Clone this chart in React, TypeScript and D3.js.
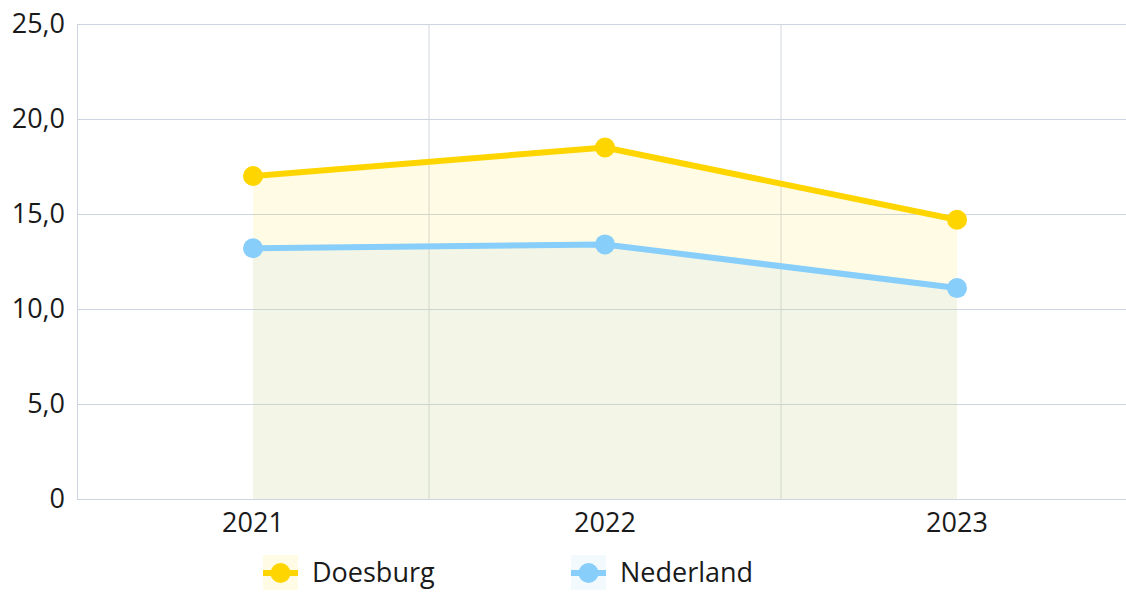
import React from "react";
import * as d3 from "d3";

const years = ["2021", "2022", "2023"];
const doesburg = [17.0, 18.5, 14.7];
const nederland = [13.2, 13.4, 11.1];
const yTicks = [0, 5, 10, 15, 20, 25];
const seriesNames = ["Doesburg", "Nederland"];

const W = 1126;
const H = 592;
const FONT = "'Open Sans', 'Noto Sans', sans-serif";

export default function App() {
  const x = d3.scaleBand<string>().domain(years).range([77, 1133]).padding(0);
  const y = d3.scaleLinear().domain([0, 25]).range([499, 24]);
  const cx = (d: string) => (x(d) as number) + x.bandwidth() / 2;

  const series = [
    { name: seriesNames[0], values: doesburg, stroke: "#FFD500", fill: "rgba(255,215,0,0.1)" },
    { name: seriesNames[1], values: nederland, stroke: "#87CEFA", fill: "rgba(135,206,250,0.1)" },
  ];

  const line = d3
    .line<number>()
    .x((_, i) => cx(years[i]))
    .y((d) => y(d));
  const area = d3
    .area<number>()
    .x((_, i) => cx(years[i]))
    .y0(y(0))
    .y1((d) => y(d));

  const fmt = (d: number) => (d === 0 ? "0" : d.toFixed(1).replace(".", ","));

  const legendX = [263, 571];

  return (
    <svg
      width={W}
      height={H}
      style={{ position: "absolute", left: 0, top: 0, fontFamily: FONT }}
    >
      <rect x={0} y={0} width={W} height={H} fill="#fff" />
      {/* vertical grid */}
      {years.slice(1).map((yr) => (
        <line key={yr} x1={x(yr)} x2={x(yr)} y1={24} y2={499} stroke="#D3D8DE" strokeWidth={1} />
      ))}
      {/* horizontal grid */}
      {yTicks.map((t) => (
        <line key={t} x1={77} x2={W} y1={y(t) + 0.5} y2={y(t) + 0.5} stroke="#CCD6E2" strokeWidth={1} />
      ))}
      <line x1={77.5} x2={77.5} y1={24} y2={499} stroke="#CCD6E2" strokeWidth={1} />
      {/* areas */}
      {series.map((s) => (
        <path key={s.name + "a"} d={area(s.values) || ""} fill={s.fill} />
      ))}
      {/* lines */}
      {series.map((s) => (
        <path key={s.name + "l"} d={line(s.values) || ""} fill="none" stroke={s.stroke} strokeWidth={6} strokeLinejoin="round" />
      ))}
      {series.map((s) =>
        s.values.map((v, i) => (
          <circle key={s.name + i} cx={cx(years[i])} cy={y(v)} r={10} fill={s.stroke} />
        ))
      )}
      {/* y tick labels */}
      {yTicks.map((t) => (
        <text key={t} x={65} y={y(t)} dy="0.35em" textAnchor="end" fontSize={27} fill="#1a1a1a">
          {fmt(t)}
        </text>
      ))}
      {/* x labels */}
      {years.map((yr) => (
        <text key={yr} x={cx(yr)} y={523} dy="0.35em" textAnchor="middle" fontSize={27} fill="#1a1a1a">
          {yr}
        </text>
      ))}
      {/* legend */}
      {series.map((s, i) => (
        <g key={s.name + "leg"} transform={`translate(${legendX[i]},0)`}>
          <rect x={0} y={555} width={35} height={35} fill={s.fill} />
          <line x1={0} x2={35} y1={573} y2={573} stroke={s.stroke} strokeWidth={6} />
          <circle cx={17.5} cy={573} r={10} fill={s.stroke} />
          <text x={49} y={573} dy="0.35em" fontSize={27} fill="#1a1a1a">
            {s.name}
          </text>
        </g>
      ))}
    </svg>
  );
}
